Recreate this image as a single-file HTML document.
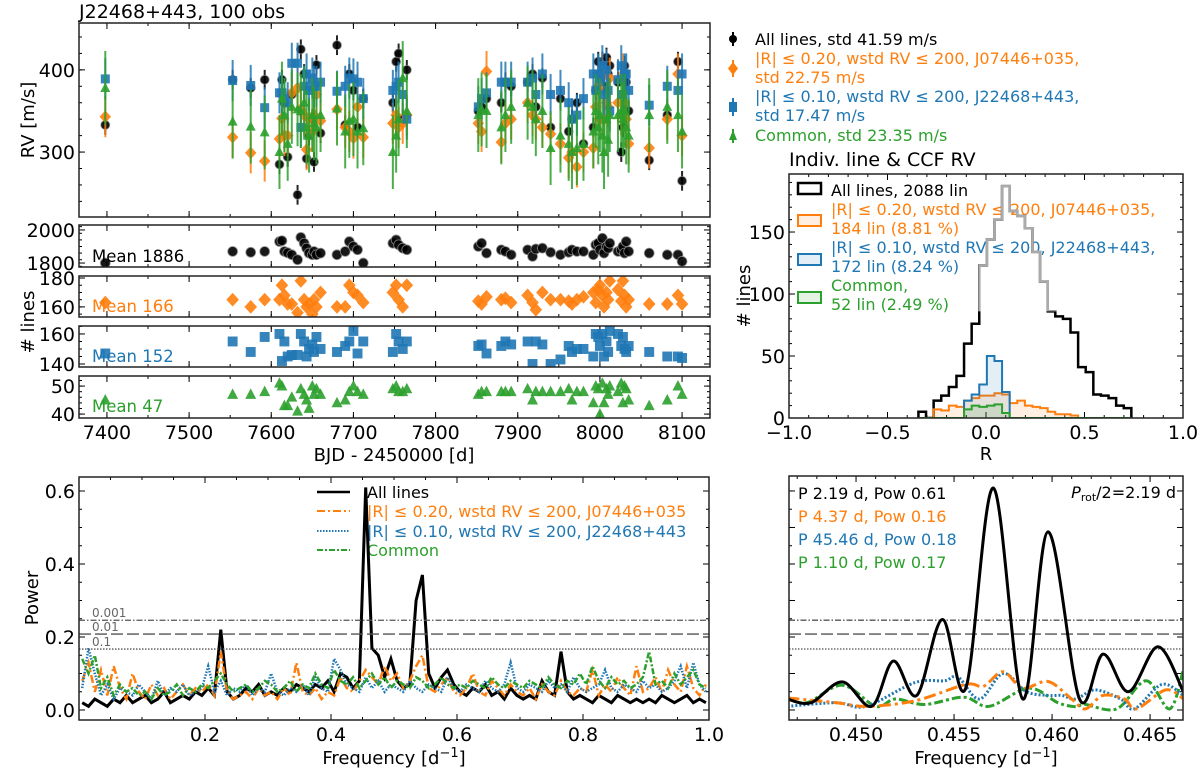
<!DOCTYPE html>
<html><head><meta charset="utf-8"><style>
body{margin:0;background:#fff}
svg text{font-family:"DejaVu Sans","Liberation Sans",sans-serif}
</style></head><body>
<svg id="fig" xmlns="http://www.w3.org/2000/svg" width="1200" height="772" viewBox="0 0 1200 772">
<text x="79" y="18" font-size="19">J22468+443, 100 obs</text>
<text x="789" y="166" font-size="19">Indiv. line &amp; CCF RV</text>
<text transform="translate(34,120) rotate(-90)" text-anchor="middle" font-size="18">RV [m/s]</text>
<text transform="translate(34,322) rotate(-90)" text-anchor="middle" font-size="18"># lines</text>
<text x="394" y="461" text-anchor="middle" font-size="18">BJD - 2450000 [d]</text>
<text transform="translate(750,296) rotate(-90)" text-anchor="middle" font-size="18"># lines</text>
<text x="986" y="460" text-anchor="middle" font-size="18">R</text>
<text transform="translate(38,598) rotate(-90)" text-anchor="middle" font-size="18">Power</text>
<text x="394" y="764" text-anchor="middle" font-size="18">Frequency [d<tspan dy="-7" font-size="13">−1</tspan><tspan dy="7">]</tspan></text>
<text x="986" y="764" text-anchor="middle" font-size="18">Frequency [d<tspan dy="-7" font-size="13">−1</tspan><tspan dy="7">]</tspan></text>
<g id="rvlegend" font-size="16">
<line x1="733" y1="32" x2="733" y2="46" stroke="#000" stroke-width="2"/><circle cx="733" cy="39" r="4" fill="#000"/>
<text x="755" y="45" fill="#000">All lines, std 41.59 m/s</text>
<line x1="733" y1="60" x2="733" y2="77" stroke="#ff7f0e" stroke-width="2"/><path d="M733,62 l5,6.5 l-5,6.5 l-5,-6.5z" fill="#ff7f0e"/>
<text x="755" y="64" fill="#ff7f0e">|R| ≤ 0.20, wstd RV ≤ 200, J07446+035,</text>
<text x="755" y="83" fill="#ff7f0e">std 22.75 m/s</text>
<line x1="733" y1="98" x2="733" y2="116" stroke="#1f77b4" stroke-width="2"/><rect x="729" y="102" width="8" height="10" fill="#1f77b4"/>
<text x="755" y="102" fill="#1f77b4">|R| ≤ 0.10, wstd RV ≤ 200, J22468+443,</text>
<text x="755" y="121" fill="#1f77b4">std 17.47 m/s</text>
<line x1="733" y1="129" x2="733" y2="143" stroke="#2ca02c" stroke-width="2"/><path d="M733,130 l4,10 h-8z" fill="#2ca02c"/>
<text x="755" y="141" fill="#2ca02c">Common, std 23.35 m/s</text>
</g>
<g id="histlegend" font-size="16">
<rect x="798" y="183" width="23" height="11" fill="none" stroke="#000" stroke-width="2.5"/>
<text x="831" y="196">All lines, 2088 lin</text>
<rect x="798" y="215" width="23" height="11" fill="#ff7f0e" fill-opacity="0.12" stroke="#ff7f0e" stroke-width="2"/>
<text x="831" y="215" fill="#ff7f0e">|R| ≤ 0.20, wstd RV ≤ 200, J07446+035,</text>
<text x="831" y="234" fill="#ff7f0e">184 lin (8.81 %)</text>
<rect x="798" y="254" width="23" height="11" fill="#1f77b4" fill-opacity="0.12" stroke="#1f77b4" stroke-width="2"/>
<text x="831" y="253" fill="#1f77b4">|R| ≤ 0.10, wstd RV ≤ 200, J22468+443,</text>
<text x="831" y="272" fill="#1f77b4">172 lin (8.24 %)</text>
<rect x="798" y="292" width="23" height="11" fill="#2ca02c" fill-opacity="0.12" stroke="#2ca02c" stroke-width="2"/>
<text x="831" y="291" fill="#2ca02c">Common,</text>
<text x="831" y="310" fill="#2ca02c">52 lin (2.49 %)</text>
</g>
<g id="pglegend" font-size="16">
<line x1="317" y1="492" x2="350" y2="492" stroke="#000" stroke-width="2.5"/>
<text x="367" y="498">All lines</text>
<line x1="317" y1="511" x2="350" y2="511" stroke="#ff7f0e" stroke-width="2" stroke-dasharray="8,3,2,3"/>
<text x="367" y="517" fill="#ff7f0e">|R| ≤ 0.20, wstd RV ≤ 200, J07446+035</text>
<line x1="317" y1="531" x2="350" y2="531" stroke="#1f77b4" stroke-width="2" stroke-dasharray="1.5,1.5"/>
<text x="367" y="537" fill="#1f77b4">|R| ≤ 0.10, wstd RV ≤ 200, J22468+443</text>
<line x1="317" y1="550" x2="350" y2="550" stroke="#2ca02c" stroke-width="2" stroke-dasharray="6,2,2,2"/>
<text x="367" y="556" fill="#2ca02c">Common</text>
</g>
<g font-size="16">
<text x="798" y="499" fill="#000">P 2.19 d, Pow 0.61</text>
<text x="798" y="522" fill="#ff7f0e">P 4.37 d, Pow 0.16</text>
<text x="798" y="545" fill="#1f77b4">P 45.46 d, Pow 0.18</text>
<text x="798" y="568" fill="#2ca02c">P 1.10 d, Pow 0.17</text>
<text x="1176" y="498" text-anchor="end"><tspan font-style="italic">P</tspan><tspan font-size="11" dy="3">rot</tspan><tspan dy="-3">/2=2.19 d</tspan></text>
</g>
</svg>
<script>
// ---------- RV time series data ----------
const epochs=[7398,7553,7575,7592,7610,7613,7616,7620,
7625,7632,7636,7640,7643,7646,7650,7652,
7655,7660,7680,7690,7695,7700,7705,7712,
7748,7752,7755,7760,7765,7852,7856,7862,
7880,7885,7892,7912,7918,7922,7930,7940,
7952,7962,7966,7972,7980,7992,7995,7998,
8000,8003,8005,8008,8010,8012,8022,8026,
8028,8030,8032,8035,8060,8082,8095,8100];
const rvAll=[333,388,378,388,285,388,360,294,370,248,425,395,292,320,340,288,406,323,430,333,395,375,330,365,360,410,420,340,400,350,355,365,360,385,380,385,395,355,390,330,365,325,340,360,310,330,375,410,395,410,380,415,395,405,385,300,330,405,385,350,290,345,410,265];
const rvOrange=[343,318,299,289,316,341,320,320,372,378,352,345,303,340,325,345,370,338,352,330,325,317,355,318,335,345,330,335,345,335,325,398,312,335,340,360,345,340,330,322,310,293,300,282,300,305,355,380,340,395,340,360,355,390,360,345,395,360,340,310,305,340,395,320];
const rvBlue=[389,387,381,354,372,372,365,360,408,408,330,380,395,375,390,380,380,385,374,380,390,389,385,365,375,380,385,370,340,355,365,372,385,385,385,385,390,370,395,370,375,360,340,345,365,395,375,395,390,405,370,400,375,350,388,405,370,395,395,375,357,380,375,395];
const rvGreen=[378,337,331,324,300,365,345,310,355,352,350,360,330,320,345,335,330,345,353,325,338,340,325,329,300,320,340,390,350,345,352,350,330,345,355,360,355,340,350,305,320,310,300,305,310,325,350,330,345,320,300,340,315,345,345,350,340,350,330,320,345,355,345,325];
const errAll=12, errOrange=25, errBlue=25, errGreen=45;
const nAll=[1800,1870,1865,1870,1930,1935,1870,1862,1850,1820,1955,1920,1890,1860,1850,1870,1850,1860,1850,1870,1930,1900,1880,1800,1920,1940,1910,1890,1880,1900,1920,1860,1880,1870,1850,1880,1840,1885,1890,1865,1850,1865,1880,1870,1870,1850,1910,1920,1880,1950,1860,1900,1890,1920,1870,1880,1900,1860,1930,1870,1860,1850,1850,1810];
const nOrange=[163,165,160,165,165,175,168,162,162,156,178,165,160,162,155,165,160,170,160,160,175,170,168,163,170,175,165,160,175,164,162,167,165,166,163,168,163,158,170,165,165,164,162,165,167,170,163,172,175,168,160,170,165,178,172,164,178,168,160,165,162,162,168,162];
const nBlue=[147,155,148,158,160,142,155,145,146,146,160,155,145,150,153,148,158,150,148,152,155,162,147,155,148,160,155,150,155,152,153,147,152,155,153,155,140,155,153,140,143,152,148,150,150,145,160,158,152,160,145,155,148,162,160,152,158,150,148,152,148,145,145,144];
const nGreen=[45,47,47,48,51,50,43,43,46,41,49,47,45,42,50,47,49,47,44,45,48,50,48,47,49,50,48,48,49,47,48,48,48,48,48,49,45,48,48,48,48,49,45,48,48,44,50,49,40,51,44,49,47,50,48,51,44,50,49,45,43,45,50,47];
const meanLabels=["Mean 1886","Mean 166","Mean 152","Mean 47"];
// ---------- histogram data ----------
const histStart=-0.343, histWidth=0.0386;
const histAll=[5,0,14,18,25,34,60,76,123,144,160,187,167,163,153,134,110,86,82,80,69,41,37,19,18,16,10,8];
const histOrange=[0,0,7,6,10,9,14,16,18,18,20,19,12,14,10,9,8,5,3,3,2,0,0,0,0,0,0,0];
const histBlue=[0,0,0,0,0,0,14,19,27,50,46,21,0,0,0,0,0,0,0,0,0,0,0,0,0,0,0,0];
const histGreen=[0,0,0,0,0,0,7,10,9,10,11,4,0,0,0,0,0,0,0,0,0,0,0,0,0,0,0,0];
// ---------- periodogram data (freq = 0.005 + 0.01 i) ----------
const pgAll=[0.02,0.01,0.03,0.02,0.01,0.03,0.02,0.04,0.02,0.03,0.04,0.02,0.03,0.05,0.02,0.03,0.04,0.03,0.05,0.04,0.06,0.04,0.22,0.05,0.03,0.04,0.06,0.05,0.07,0.04,0.05,0.04,0.06,0.05,0.07,0.06,0.05,0.07,0.06,0.08,0.05,0.10,0.09,0.06,0.08,0.61,0.17,0.15,0.09,0.14,0.08,0.06,0.07,0.30,0.37,0.10,0.06,0.09,0.11,0.07,0.05,0.04,0.06,0.05,0.07,0.04,0.05,0.03,0.06,0.04,0.03,0.04,0.03,0.08,0.05,0.04,0.16,0.05,0.03,0.04,0.03,0.02,0.04,0.03,0.02,0.04,0.03,0.02,0.03,0.02,0.03,0.02,0.04,0.03,0.02,0.03,0.04,0.02,0.03,0.02];
const pgOrange=[0.08,0.13,0.05,0.11,0.04,0.12,0.06,0.03,0.10,0.05,0.03,0.07,0.04,0.06,0.03,0.05,0.07,0.04,0.06,0.05,0.07,0.04,0.16,0.05,0.03,0.04,0.05,0.03,0.06,0.04,0.05,0.03,0.06,0.04,0.13,0.05,0.04,0.06,0.03,0.05,0.04,0.09,0.06,0.05,0.08,0.11,0.09,0.07,0.12,0.08,0.10,0.06,0.08,0.12,0.15,0.06,0.05,0.07,0.09,0.05,0.04,0.06,0.10,0.05,0.04,0.08,0.06,0.04,0.07,0.05,0.04,0.06,0.03,0.07,0.05,0.04,0.08,0.05,0.04,0.06,0.05,0.11,0.04,0.07,0.05,0.09,0.06,0.04,0.12,0.05,0.06,0.09,0.05,0.11,0.07,0.05,0.12,0.06,0.04,0.07];
const pgBlue=[0.06,0.17,0.10,0.04,0.07,0.03,0.06,0.05,0.04,0.07,0.05,0.03,0.08,0.04,0.06,0.05,0.07,0.04,0.05,0.06,0.12,0.05,0.08,0.04,0.06,0.05,0.07,0.04,0.06,0.05,0.10,0.05,0.04,0.06,0.05,0.07,0.04,0.09,0.06,0.05,0.14,0.11,0.07,0.06,0.05,0.09,0.06,0.08,0.05,0.07,0.06,0.05,0.08,0.06,0.05,0.07,0.06,0.05,0.09,0.06,0.05,0.07,0.06,0.05,0.08,0.06,0.05,0.07,0.13,0.06,0.05,0.07,0.06,0.05,0.08,0.06,0.07,0.05,0.09,0.06,0.05,0.06,0.07,0.11,0.06,0.05,0.07,0.06,0.05,0.08,0.06,0.07,0.05,0.06,0.08,0.12,0.06,0.13,0.07,0.05];
const pgGreen=[0.14,0.10,0.15,0.06,0.09,0.04,0.07,0.05,0.06,0.04,0.05,0.03,0.06,0.04,0.05,0.07,0.04,0.06,0.05,0.07,0.06,0.08,0.10,0.07,0.05,0.06,0.07,0.05,0.06,0.08,0.07,0.05,0.06,0.08,0.05,0.07,0.06,0.10,0.07,0.06,0.11,0.08,0.07,0.09,0.06,0.08,0.10,0.07,0.09,0.06,0.08,0.07,0.06,0.09,0.08,0.06,0.07,0.09,0.07,0.06,0.07,0.06,0.08,0.07,0.06,0.09,0.07,0.06,0.08,0.07,0.06,0.08,0.07,0.06,0.09,0.07,0.06,0.08,0.07,0.10,0.07,0.12,0.08,0.06,0.09,0.07,0.08,0.06,0.07,0.09,0.16,0.07,0.08,0.06,0.10,0.07,0.09,0.11,0.07,0.06];
const fapLevels=[0.246,0.208,0.167];
const fapLabels=["0.001","0.01","0.1"];
// ---------- zoomed periodogram knots ----------
const zfAll=[0.4465,0.4477,0.4493,0.4508,0.4519,0.4531,0.4544,0.4556,0.4570,0.4585,0.4598,0.4614,0.4626,0.4639,0.4654,0.4667];
const zpAll=[0.03,0.02,0.077,0.01,0.134,0.04,0.248,0.06,0.608,0.03,0.488,0.03,0.153,0.05,0.173,0.05];
const zfOrange=[0.4465,0.4490,0.4505,0.4530,0.4556,0.4565,0.4575,0.4585,0.4598,0.4610,0.4617,0.4626,0.4637,0.4643,0.4658,0.4667];
const zpOrange=[0.033,0.02,0.01,0.025,0.07,0.065,0.105,0.06,0.078,0.03,0.003,0.04,0.03,0.003,0.055,0.03];
const zfBlue=[0.4465,0.4490,0.4505,0.4530,0.4545,0.4552,0.4563,0.4575,0.4587,0.4598,0.4605,0.4612,0.4622,0.4635,0.4642,0.4656,0.4667];
const zpBlue=[0.01,0.02,0.01,0.075,0.08,0.09,0.03,0.10,0.05,0.04,0.04,0.03,0.055,0.03,0.003,0.07,0.04];
const zfGreen=[0.4465,0.4475,0.4493,0.4510,0.4520,0.4535,0.4555,0.4568,0.4588,0.4603,0.4612,0.4617,0.4633,0.4648,0.4660,0.4667];
const zpGreen=[0.035,0.02,0.068,0.01,0.03,0.015,0.035,0.01,0.06,0.02,0.009,0.015,0.003,0.08,0.003,0.11];

const NS='http://www.w3.org/2000/svg';
const svg=document.getElementById('fig');
function mk(tag,attrs,parent){const e=document.createElementNS(NS,tag);for(const k in attrs)e.setAttribute(k,attrs[k]);(parent||svg).appendChild(e);return e;}
function lin(d0,d1,r0,r1){return v=>r0+(v-d0)*(r1-r0)/(d1-d0);}
function range(a,b,s){const o=[];for(let v=a;v<=b+s*1e-6;v+=s)o.push(+v.toFixed(6));return o;}

function panel(name,P,opt){
  const g=mk('g',{});
  
  
  const sx=lin(P.xmin,P.xmax,P.x0,P.x1), sy=lin(P.ymin,P.ymax,P.y1,P.y0);
  const tg=mk('g',{stroke:'#000','stroke-width':1},g);
  function tk(vals,len,axis){vals.forEach(v=>{
    if(axis==='x'){const x=sx(v);if(x<P.x0-0.5||x>P.x1+0.5)return;
      mk('line',{x1:x,x2:x,y1:P.y1,y2:P.y1-len},tg);mk('line',{x1:x,x2:x,y1:P.y0,y2:P.y0+len},tg);}
    else{const y=sy(v);if(y<P.y0-0.5||y>P.y1+0.5)return;
      mk('line',{x1:P.x0,x2:P.x0+len,y1:y,y2:y},tg);mk('line',{x1:P.x1,x2:P.x1-len,y1:y,y2:y},tg);}
  });}
  tk(opt.xmaj||[],6,'x');tk(opt.xmin||[],3,'x');tk(opt.ymaj||[],6,'y');tk(opt.ymin||[],3,'y');
  if(opt.xlab){const lg=mk('g',{'font-size':19,'text-anchor':'middle'},g);
    
    
    opt.xlab.forEach(v=>{const t=mk('text',{x:sx(v),y:P.y1+21},lg);t.textContent=opt.xfmt(v);});}
  if(opt.ylab){const lg=mk('g',{'font-size':19,'text-anchor':'end'},g);
    
    
    opt.ylab.forEach(v=>{const t=mk('text',{x:P.x0-4,y:sy(v)+7},lg);t.textContent=opt.yfmt(v);});}
  const clipId='c'+name;
  const cp=mk('clipPath',{id:clipId},g);mk('rect',{x:P.x0,y:P.y0,width:P.x1-P.x0,height:P.y1-P.y0},cp);
  const content=mk('g',{'clip-path':'url(#'+clipId+')'},g);
  return {g,sx,sy,content,P,finish(){const f=mk('rect',{x:P.x0,y:P.y0,width:P.x1-P.x0,height:P.y1-P.y0,fill:'none',stroke:'#222','stroke-width':1.5},g);}};
}

// ---- RV panel ----
const tmin=7366,tmax=8134;
const rv=panel('rv-panel',{x0:79,x1:710,y0:23,y1:217,xmin:tmin,xmax:tmax,ymin:221,ymax:457},
 {xmaj:range(7400,8100,100),xmin:range(7350,8150,50),ymaj:[300,400],ymin:range(220,460,20),ylab:[300,400],yfmt:v=>v});
const series=[
 {name:'all',c:'#000',rv:rvAll,err:errAll,n:nAll,mk:'circle'},
 {name:'orange',c:'#ff7f0e',rv:rvOrange,err:errOrange,n:nOrange,mk:'diamond'},
 {name:'blue',c:'#1f77b4',rv:rvBlue,err:errBlue,n:nBlue,mk:'square'},
 {name:'green',c:'#2ca02c',rv:rvGreen,err:errGreen,n:nGreen,mk:'triangle'}];
function marker(parent,type,x,y,c,s){
  let e;
  if(type==='circle')e=mk('circle',{cx:x,cy:y,r:4.5*s,fill:c,stroke:'#888','stroke-width':0.8},parent);
  else if(type==='diamond')e=mk('path',{d:`M${x},${y-6*s} L${x+5.5*s},${y} L${x},${y+6*s} L${x-5.5*s},${y}Z`,fill:c,stroke:c,'stroke-width':0.5},parent);
  else if(type==='square')e=mk('rect',{x:x-4.5*s,y:y-4.5*s,width:9*s,height:9*s,fill:c},parent);
  else e=mk('path',{d:`M${x},${y-5.5*s} L${x+5*s},${y+4*s} L${x-5*s},${y+4*s}Z`,fill:c},parent);
  e.setAttribute('opacity','0.9');
  return e;
}
series.forEach(S=>{
  const sg=mk('g',{},rv.content);
  
  
  epochs.forEach((t,i)=>{
    const x=rv.sx(t),y=rv.sy(S.rv[i]);
    const eb=mk('line',{x1:x,x2:x,y1:rv.sy(S.rv[i]-S.err),y2:rv.sy(S.rv[i]+S.err),stroke:S.c,'stroke-width':2,opacity:0.85},sg);
    
    
    const m=marker(sg,S.mk,x,y,S.c,1);
    
    
  });
});
rv.finish();

// ---- N lines panels ----
const nPanels=[
 {y0:225,y1:267,ymin:1776,ymax:2030,maj:[1800,2000],mn:range(1780,2020,40),ly:262},
 {y0:276,y1:317,ymin:153,ymax:181.4,maj:[160,180],mn:range(155,180,5),ly:312},
 {y0:326,y1:367,ymin:138,ymax:165.3,maj:[140,160],mn:range(140,165,5),ly:362},
 {y0:376,y1:418,ymin:38.6,ymax:53.6,maj:[40,50],mn:range(40,52,2),ly:412}];
nPanels.forEach((NP,k)=>{
  const S=series[k];
  const p=panel('nlines-panel-'+S.name,{x0:79,x1:710,y0:NP.y0,y1:NP.y1,xmin:tmin,xmax:tmax,ymin:NP.ymin,ymax:NP.ymax},
   {xmaj:range(7400,8100,100),xmin:range(7350,8150,50),ymaj:NP.maj,ymin:NP.mn,ylab:NP.maj,yfmt:v=>v,
    xlab:k===3?range(7400,8100,100):null,xfmt:v=>v});
  epochs.forEach((t,i)=>{
    const m=marker(p.content,S.mk,p.sx(t),p.sy(S.n[i]),S.c,1.1);
    
    
  });
  const t=mk('text',{x:92,y:NP.ly,'font-size':16.5,fill:S.c},p.g);
  t.textContent=meanLabels[k];
  
  
  p.finish();
});

// ---- histogram ----
const hp=panel('histogram-panel',{x0:789,x1:1183,y0:174,y1:418,xmin:-1,xmax:1,ymin:0,ymax:196.8},
 {xmaj:[-1,-0.5,0,0.5,1],xmin:range(-1,1,0.1),ymaj:[0,50,100,150],ymin:range(0,190,10),
  xlab:[-1,-0.5,0,0.5,1],xfmt:v=>(v<0?'−':'')+Math.abs(v).toFixed(1),ylab:[0,50,100,150],yfmt:v=>v});
function stepPath(counts){
  let d=`M${hp.sx(histStart)},${hp.sy(0)}`;
  counts.forEach((c,i)=>{d+=` V${hp.sy(c)} H${hp.sx(histStart+(i+1)*histWidth)}`;});
  return d+` V${hp.sy(0)}`;
}
[['all',histAll,'#000','none'],['orange',histOrange,'#ff7f0e','#ff7f0e'],['blue',histBlue,'#1f77b4','#1f77b4'],['green',histGreen,'#2ca02c','#2ca02c']].forEach(([n,c,col,f])=>{
  const e=mk('path',{d:stepPath(c),fill:f,'fill-opacity':0.12,stroke:col,'stroke-width':n==='all'?2.5:2},hp.content);
  
  
});
const gc=mk('clipPath',{id:'greyclip'},hp.g);
mk('rect',{x:hp.sx(histStart+8*histWidth)-1,y:174,width:hp.sx(histStart+19*histWidth)-hp.sx(histStart+8*histWidth)+2,height:hp.sy(86)-174},gc);
const grey=mk('path',{d:stepPath(histAll),fill:'none',stroke:'#aaa','stroke-width':2.6,'clip-path':'url(#greyclip)'},hp.g);


hp.finish();

// ---- periodogram ----
const pp=panel('periodogram-panel',{x0:79,x1:709,y0:477,y1:720,xmin:0,xmax:1,ymin:-0.0274,ymax:0.6384},
 {xmaj:range(0.2,1,0.2),xmin:range(0.05,1,0.05),ymaj:range(0,0.6,0.2),ymin:range(0,0.6,0.05),
  xlab:range(0.2,1,0.2),xfmt:v=>v.toFixed(1),ylab:range(0,0.6,0.2),yfmt:v=>v.toFixed(1)});
const dash={all:null,orange:'8,3,2,3',blue:'1.5,1.5',green:'6,2,2,2'};
[['all',pgAll,'#000'],['orange',pgOrange,'#ff7f0e'],['blue',pgBlue,'#1f77b4'],['green',pgGreen,'#2ca02c']].forEach(([n,v,c])=>{
  let d='';v.forEach((p,i)=>{const f=0.005+0.01*i;d+=(i?'L':'M')+pp.sx(f).toFixed(1)+','+pp.sy(p).toFixed(1);});
  const a={d,fill:'none',stroke:c,'stroke-width':n==='all'?3:2.5};if(dash[n])a['stroke-dasharray']=dash[n];
  const e=mk('path',a,pp.content);
  
  
});
const fapDash=['6,2,1.5,2','12,4','1.5,1.5'];
function drawFap(P,withLabels){
  fapLevels.forEach((lv,i)=>{
    const l=mk('line',{x1:P.P.x0,x2:P.P.x1,y1:P.sy(lv),y2:P.sy(lv),stroke:'#555','stroke-width':1.3,'stroke-dasharray':fapDash[i]},P.content);
    
    
    if(withLabels){const t=mk('text',{x:92,y:P.sy(lv)-3,'font-size':12,fill:'#666'},P.g);t.textContent=fapLabels[i];
      
      }
  });
}
drawFap(pp,true);
pp.finish();

// ---- zoomed periodogram ----
const zp=panel('zoom-periodogram-panel',{x0:789,x1:1183,y0:476,y1:720,xmin:0.44658,xmax:0.46668,ymin:-0.0274,ymax:0.641},
 {xmaj:range(0.450,0.465,0.005),xmin:range(0.447,0.466,0.001),ymaj:range(0,0.6,0.1),ymin:range(0,0.6,0.05),
  xlab:range(0.450,0.465,0.005),xfmt:v=>v.toFixed(3)});
function smooth(fs,ps){
  const pts=fs.map((f,i)=>[zp.sx(f),zp.sy(ps[i])]);
  let d=`M${pts[0][0]},${pts[0][1]}`;
  for(let i=0;i<pts.length-1;i++){
    const p0=pts[Math.max(0,i-1)],p1=pts[i],p2=pts[i+1],p3=pts[Math.min(pts.length-1,i+2)];
    const c1=[p1[0]+(p2[0]-p0[0])/6,p1[1]+(p2[1]-p0[1])/6],c2=[p2[0]-(p3[0]-p1[0])/6,p2[1]-(p3[1]-p1[1])/6];
    d+=` C${c1[0].toFixed(1)},${c1[1].toFixed(1)} ${c2[0].toFixed(1)},${c2[1].toFixed(1)} ${p2[0].toFixed(1)},${p2[1].toFixed(1)}`;
  }
  return d;
}
drawFap(zp,false);
[['green',zfGreen,zpGreen,'#2ca02c'],['blue',zfBlue,zpBlue,'#1f77b4'],['orange',zfOrange,zpOrange,'#ff7f0e'],['all',zfAll,zpAll,'#000']].forEach(([n,f,p,c])=>{
  const a={d:smooth(f,p),fill:'none',stroke:c,'stroke-width':3};
  if(n==='orange')a['stroke-dasharray']='12,4,3,4';if(n==='blue')a['stroke-dasharray']='2,2';if(n==='green')a['stroke-dasharray']='9,3,3,3';
  const e=mk('path',a,zp.content);
  
  
});
zp.finish();
</script>
</body></html>
